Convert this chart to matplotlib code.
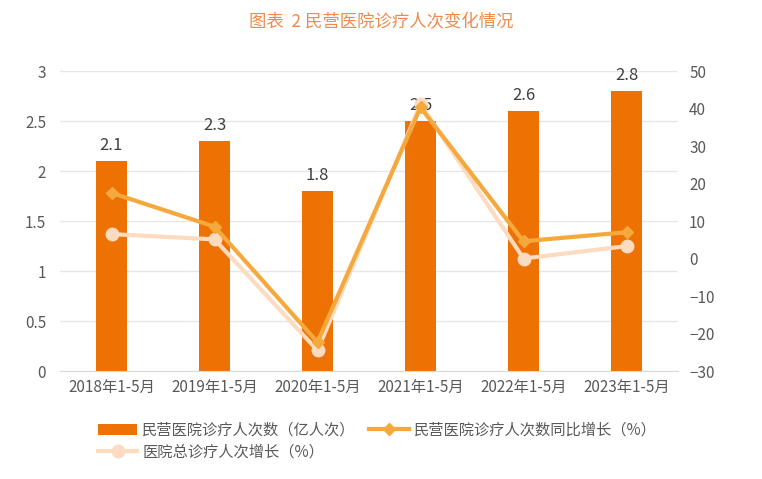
import matplotlib
matplotlib.use("Agg")
import matplotlib.pyplot as plt
import numpy as np

plt.rcParams['font.family'] = ['Noto Sans CJK SC', 'DejaVu Sans']

categories = ['2018年1-5月', '2019年1-5月', '2020年1-5月', '2021年1-5月', '2022年1-5月', '2023年1-5月']
visits = [2.1, 2.3, 1.8, 2.5, 2.6, 2.8]
private_growth = [17.5, 8.5, -22.3, 40.3, 4.6, 7.0]
total_growth = [6.5, 5.1, -24.5, 41.2, 0.0, 3.3]

bar_color = '#EE7203'
line1_color = '#F5A83C'
line2_color = '#FCDBC0'
text_color = '#595959'

fig = plt.figure(figsize=(7.62, 4.79), dpi=100)
ax = fig.add_axes([60/762, 1-371/479, 618/762, 300/479])
x = np.arange(len(categories))
bars = ax.bar(x, visits, width=0.31, color=bar_color, zorder=2, label='民营医院诊疗人次数（亿人次）')
ax.set_ylim(0, 3)
ax.set_yticks(np.arange(0, 3.01, 0.5))
ax.set_yticklabels(['0', '0.5', '1', '1.5', '2', '2.5', '3'])
ax.set_xlim(-0.5, len(categories)-0.5)
ax.set_xticks(x)
ax.set_xticklabels(categories)
ax.grid(axis='y', color='#E6E6E6', linewidth=1, zorder=0)
for s in ['top', 'right', 'left']:
    ax.spines[s].set_visible(False)
ax.spines['bottom'].set_color('#D9D9D9')
ax.tick_params(axis='both', length=0, colors=text_color, labelsize=11)
ax.tick_params(axis='y', pad=10)
ax.tick_params(axis='x', pad=6)
for xi, v in zip(x, visits):
    ax.text(xi, v + 0.07, f'{v}', ha='center', va='bottom', fontsize=12, color='#404040')

ax2 = ax.twinx()
ax2.set_ylim(-30, 50)
ax2.set_yticks(np.arange(-30, 51, 10))
for s in ['top', 'right', 'left', 'bottom']:
    ax2.spines[s].set_visible(False)
ax2.tick_params(axis='y', length=0, colors=text_color, labelsize=11, pad=8)
l2, = ax2.plot(x, total_growth, color=line2_color, linewidth=3, marker='o', markersize=9, zorder=3,
               label='医院总诊疗人次增长（%）')
l1, = ax2.plot(x, private_growth, color=line1_color, linewidth=3, marker='D', markersize=6, zorder=4,
               label='民营医院诊疗人次数同比增长（%）')

handles = [bars, l2, l1]
labels = [h.get_label() for h in handles]
leg = fig.legend(handles, labels, loc='upper left', bbox_to_anchor=(84/762, 1-408/479), ncol=2,
                 frameon=False, fontsize=11, handlelength=2.6, columnspacing=0.9, labelspacing=0.3,
                 handletextpad=0.3)
for t in leg.get_texts():
    t.set_color(text_color)

fig.text(0.5, 1-22/479, '图表  2 民营医院诊疗人次变化情况', ha='center', va='center', fontsize=12.5, color='#F08A4B')

fig.savefig('out.png', dpi=100)
